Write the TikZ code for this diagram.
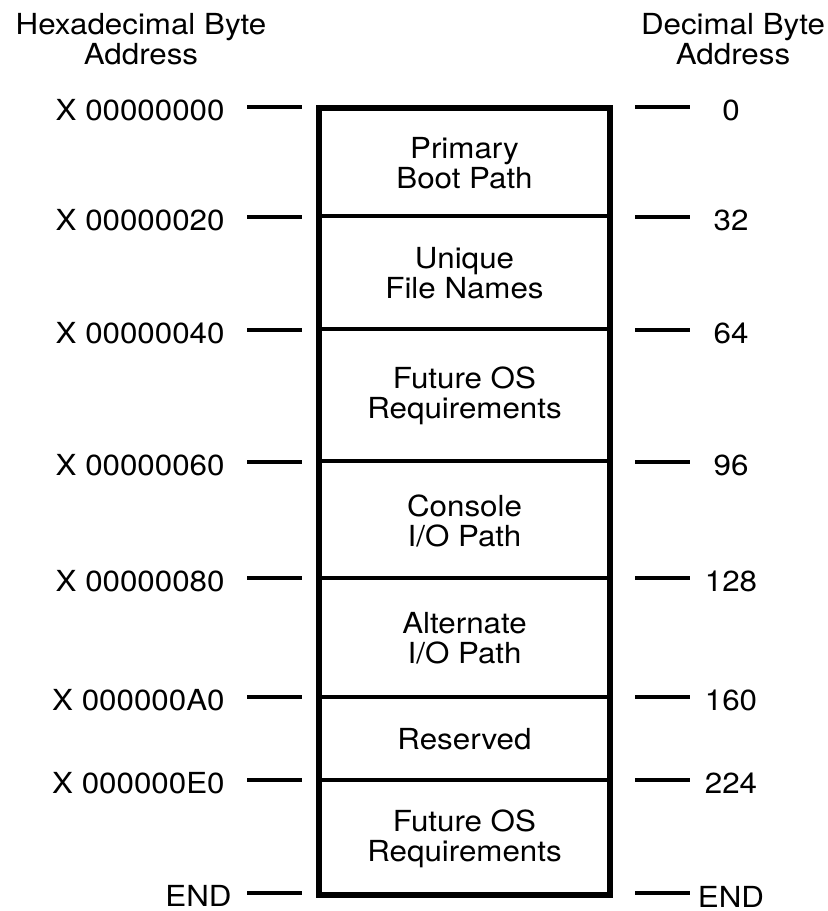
\documentclass[tikz,border=0pt]{standalone}
\usepackage{fontspec}
\setmainfont{TeX Gyre Heros}
\usetikzlibrary{calc}

\tikzset{
cimke/.style={font=\fontsize{14.5}{15}\selectfont, xscale=1.08, inner sep=0pt, align=center},
vonal/.style={line width=2pt},
keret/.style={line width=2.8pt}
}

\begin{document}
\begin{tikzpicture}[x=0.5pt,y=-0.5pt]
\pgfmathsetmacro{\balx}{319}
\pgfmathsetmacro{\jobbx}{610}
\pgfmathsetmacro{\felso}{108}
\pgfmathsetmacro{\also}{895}
\pgfmathsetmacro{\kozep}{(\balx+\jobbx)/2}

\useasboundingbox (0,0) rectangle (827,911);

\node[cimke] (hexa) at (141,39){Hexadecimal Byte\\Address};
\node[cimke] (deci) at (733,39){Decimal Byte\\Address};

% reszek elvalasztoi
\foreach \y in {216,329,461,578,697,780}{
\draw[vonal] (\balx,\y) -- (\jobbx,\y);
}
\draw[keret] (\balx,\felso) rectangle (\jobbx,\also);

\foreach \a/\b/\szoveg [count=\i] in {108/216/{Primary\\Boot Path}, 216/329/{Unique\\File Names}, 329/461/{Future OS\\Requirements}, 461/578/{Console\\I/O Path}, 578/697/{Alternate\\I/O Path}, 697/780/{Reserved}, 780/895/{Future OS\\Requirements}}{
\node[cimke] (resz\i) at (\kozep,{(\a+\b)/2+1}){\szoveg};
}

% cimek jobbra es balra
\foreach \y/\hex/\dec [count=\i] in {107/X 00000000/0, 217/X 00000020/32, 330/X 00000040/64, 462/X 00000060/96, 578/X 00000080/128, 697/X 000000A0/160, 780/X 000000E0/224}{
\draw[vonal] (247,\y) -- ++(55,0);
\draw[vonal] (635,\y) -- ++(55,0);
\node[cimke, anchor=east] (hex\i) at (225,\y+3){\hex};
\node[cimke] (dec\i) at (731,\y+3){\dec};
}

\draw[vonal] (247,893) -- ++(55,0);
\draw[vonal] (635,893) -- ++(55,0);
\node[cimke, anchor=east] (hexveg) at (232,896){END};
\node[cimke] (decveg) at (731,897){END};

\end{tikzpicture}
\end{document}
